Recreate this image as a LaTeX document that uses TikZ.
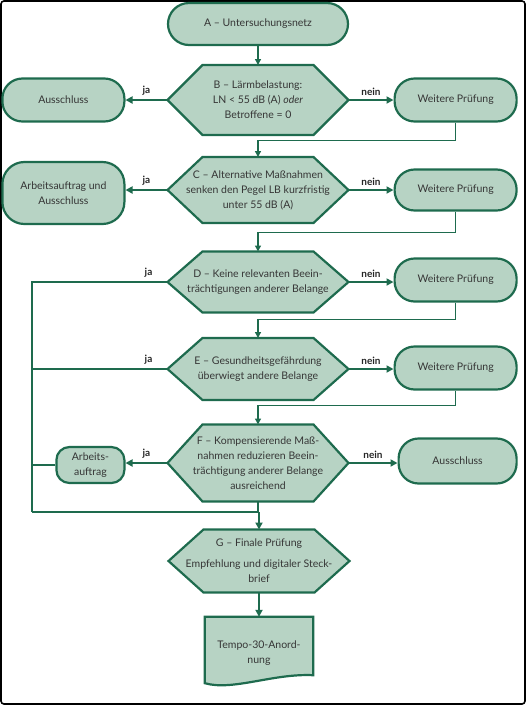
\documentclass[tikz,border=0pt]{standalone}
\usepackage{fontspec}
\setmainfont{Lato}
\usetikzlibrary{arrows.meta,positioning,backgrounds}

\definecolor{flowGreen}{HTML}{1E6B4E}
\definecolor{flowFill}{HTML}{B7D3C4}
\definecolor{flowText}{HTML}{363636}

\begin{document}
\begin{tikzpicture}[
    x=1pt, y=-1pt,
    font=\fontsize{10.5}{15}\selectfont,
    termNode/.style={
        rectangle, rounded corners=20pt, draw=flowGreen, line width=2.2pt,
        fill=flowFill, text=flowText, minimum width=122pt, minimum height=43pt,
        align=center, inner sep=2pt
    },
    hexNode/.style={
        rectangle, text=flowText, minimum width=181pt, minimum height=#1pt,
        align=center, inner sep=2pt, outer sep=0pt
    },
    hexShape/.style={draw=flowGreen, line width=2.2pt, fill=flowFill, line join=miter},
    smallNode/.style={
        rectangle, rounded corners=13pt, draw=flowGreen, line width=2.2pt,
        fill=flowFill, text=flowText, minimum width=68pt, minimum height=36pt,
        align=center, inner sep=2pt
    },
    labelText/.style={font=\fontsize{10}{12}\selectfont\bfseries, text=black!85},
    mainLine/.style={line width=2.2pt, draw=flowGreen},
    mainArrow/.style={
        -{Triangle[length=7pt, width=7pt]}, line width=2.2pt, draw=flowGreen
    },
    backArrow/.style={
        -{Triangle[length=6pt, width=6pt]}, line width=1.4pt, draw=flowGreen
    }
]
\useasboundingbox (0,0) rectangle (526,705);
\draw[black, line width=1.6pt, rounded corners=3pt] (1,1) rectangle (525,704);

% Main column
\node[termNode, rounded corners=21pt, minimum width=180pt, minimum height=42pt] (netA) at (258,24) {A – Untersuchungsnetz};
\node[hexNode=70] (hexB) at (258,100) {B – Lärmbelastung:\\LN < 55 dB (A) \textit{oder}\\Betroffene = 0};
\node[hexNode=66] (hexC) at (258,190) {C – Alternative Maßnahmen\\senken den Pegel LB kurzfristig\\unter 55 dB (A)};
\node[hexNode=61] (hexD) at (258,282) {D – Keine relevanten Beein-\\trächtigungen anderer Belange};
\node[hexNode=62] (hexE) at (258,369) {E – Gesundheitsgefährdung\\überwiegt andere Belange};
\node[hexNode=77] (hexF) at (258,463) {F – Kompensierende Maß-\\nahmen reduzieren Beein-\\trächtigung anderer Belange\\ausreichend};
\node[hexNode=63] (hexG) at (259,561) {G – Finale Prüfung\\[6pt]Empfehlung und digitaler Steck-\\brief};
\node[minimum width=108pt, minimum height=60pt, text=flowText, align=center] (docT) at (259,653) {Tempo-30-Anord-\\nung};

% Hexagon outlines and document shape
\begin{scope}[on background layer]
\foreach \hx in {hexB,hexC,hexD,hexE,hexF,hexG}
    \draw[hexShape] (\hx.west) -- ([xshift=35pt]\hx.north west) -- ([xshift=-35pt]\hx.north east)
        -- (\hx.east) -- ([xshift=-35pt]\hx.south east) -- ([xshift=35pt]\hx.south west) -- cycle;
\draw[hexShape]
    ([yshift=8pt]docT.south east) -- ([yshift=6pt]docT.north east) -- ([yshift=6pt]docT.north west)
    -- (docT.south west) .. controls +(28,8) and +(-40,-2) .. ([yshift=8pt]docT.south east) -- cycle;
\end{scope}

% Left branch
\node[termNode, left=42pt of hexB] (outB) {Ausschluss};
\node[termNode, left=42pt of hexC, minimum height=62pt, rounded corners=22pt, yshift=-3pt] (outC) {Arbeitsauftrag und\\Ausschluss};
\node[smallNode, left=42pt of hexF, yshift=-2pt] (taskF) {Arbeits-\\auftrag};

% Right branch
\node[termNode, right=45pt of hexB] (chkB) {Weitere Prüfung};
\node[termNode, right=45pt of hexC, minimum height=41pt] (chkC) {Weitere Prüfung};
\node[termNode, right=45pt of hexD, yshift=2pt] (chkD) {Weitere Prüfung};
\node[termNode, right=45pt of hexE, yshift=1pt] (chkE) {Weitere Prüfung};
\node[termNode, right=49pt of hexF, minimum width=118pt, minimum height=45pt, yshift=2pt] (outF) {Ausschluss};

\coordinate (collBot) at (32,512);

% Flows
\draw[backArrow] (netA.south) -- (hexB.north);

\draw[mainArrow] (hexB.west) -- node[above, labelText] {ja} (outB.east);
\draw[mainArrow] (hexB.east) -- node[above, labelText] {nein} (chkB.west);
\draw[backArrow] (chkB.south) -- ++(0,18) -| (hexC.north);

\draw[mainArrow] (hexC.west) -- node[above, labelText] {ja} (hexC.west -| outC.east);
\draw[mainArrow] (hexC.east) -- node[above, labelText] {nein} (chkC.west);
\draw[backArrow] (chkC.south) -- ++(0,21) -| (hexD.north);

\draw[mainLine] (hexD.west) -- node[pos=0.14, above, labelText] {ja} (hexD.west -| collBot) -- (collBot);
\draw[mainArrow] (hexD.east) -- node[above, labelText] {nein} (hexD.east -| chkD.west);
\draw[backArrow] (chkD.south) -- ++(0,17) -| (hexE.north);

\draw[mainLine] (hexE.west) -- node[pos=0.14, above, labelText] {ja} (hexE.west -| collBot);
\draw[mainArrow] (hexE.east) -- node[above, labelText] {nein} (hexE.east -| chkE.west);
\draw[backArrow] (chkE.south) -- ++(0,15) -| (hexF.north);

\draw[mainArrow] (hexF.west) -- node[above, labelText] {ja} (hexF.west -| taskF.east);
\draw[mainArrow] (hexF.east) -- node[above, labelText] {nein} (hexF.east -| outF.west);
\draw[mainLine] (taskF.west) -- (taskF.west -| collBot);
\draw[mainLine] (hexF.south) -- (hexF.south |- collBot);

\draw[mainLine] (collBot) -- (collBot -| hexG.north);
\draw[mainArrow] (collBot -| hexG.north) -- (hexG.north);
\draw[mainArrow] (hexG.south) -- ([yshift=6pt]docT.north);

\end{tikzpicture}
\end{document}
